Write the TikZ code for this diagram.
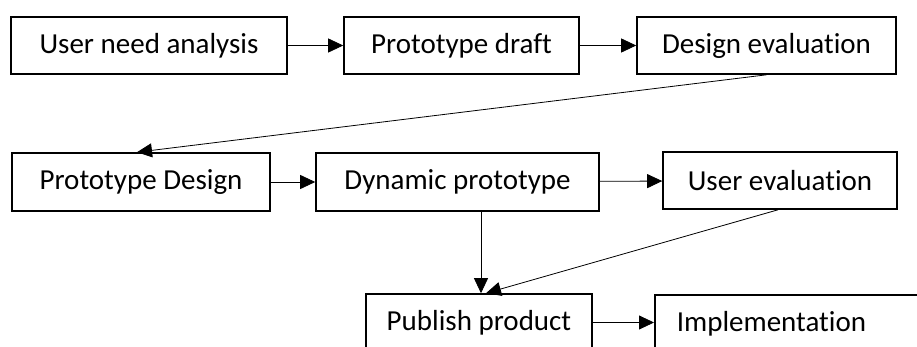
\documentclass[tikz,border=0pt]{standalone}
\usepackage{fontspec}
\setmainfont{Carlito}[Ligatures={NoCommon,NoDiscretionary}]
\usetikzlibrary{arrows.meta}
\begin{document}
\begin{tikzpicture}[x=1pt,y=-1pt,
  box/.style={draw=black, line width=1.6pt, rectangle, inner sep=0pt,
    font=\fontsize{29}{33}\selectfont},
  arr/.style={line width=0.8pt, -{Triangle[length=15pt,width=14pt]}}]
  \useasboundingbox (0,0) rectangle (917,347);
  \clip (0,0) rectangle (917,347);
  % first row
  \node[box, minimum width=276pt, minimum height=57pt] (b1) at (149,45.5) {User need analysis};
  \node[box, minimum width=235pt, minimum height=57pt] (b2) at (461.5,45.5) {Prototype draft};
  \node[box, minimum width=259pt, minimum height=57pt] (b3) at (766.5,45.5) {Design evaluation};
  % second row
  \node[box, minimum width=258pt, minimum height=58pt] (b4) at (141,182) {Prototype Design};
  \node[box, minimum width=283pt, minimum height=58pt] (b5) at (457.5,182) {Dynamic prototype};
  \node[box, minimum width=234pt, minimum height=57pt] (b6) at (780,180.5) {User evaluation};
  % third row
  \node[box, minimum width=226pt, minimum height=57pt] (b7) at (479,322.5) {Publish product};
  \node[box, anchor=north west, text width=252pt, align=left, inner xsep=22pt,
        minimum height=57pt] (b8) at (654,294) {Implementation};
  % connectors
  \draw[arr] (b1) -- (b2);
  \draw[arr] (b2) -- (b3);
  \draw[arr] (b3.south) -- ([xshift=-4pt]b4.north);
  \draw[arr] (b4) -- (b5);
  \draw[arr] (b5) -- (b6);
  \draw[arr] ([xshift=2pt]b5.south -| b7.north) -- ([xshift=2pt]b7.north);
  \draw[arr] ([xshift=-2pt]b6.south) -- ([xshift=7pt]b7.north);
  \draw[arr] (b7) -- (b8.west |- b7.east);
\end{tikzpicture}
\end{document}
